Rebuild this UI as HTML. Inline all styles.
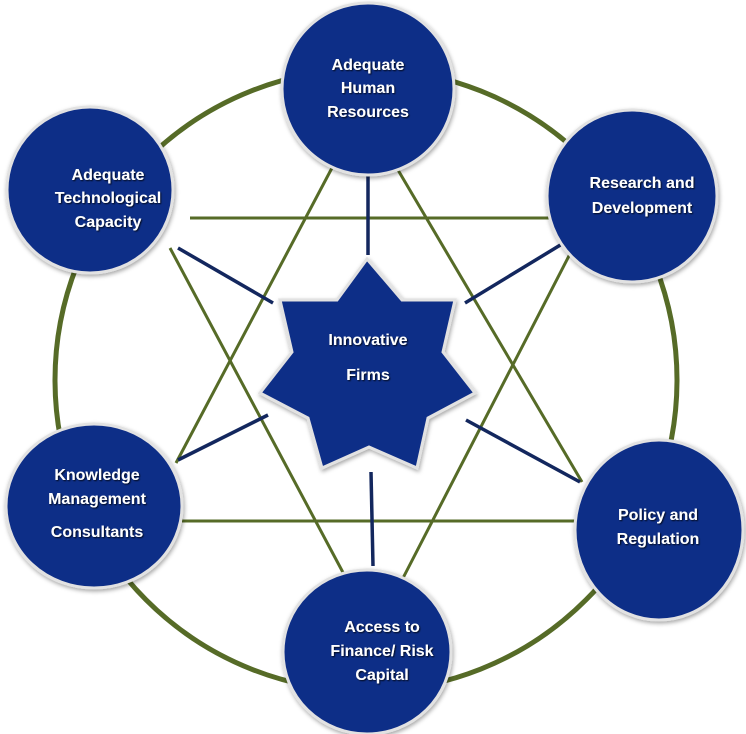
<!DOCTYPE html>
<html><head><meta charset="utf-8"><style>
html,body{margin:0;padding:0;background:#fff;width:746px;height:734px;overflow:hidden}
text{font-family:"Liberation Sans Narrow","Liberation Sans",sans-serif;font-weight:bold;font-size:16px;fill:#fff;text-anchor:middle;dominant-baseline:middle}
</style></head><body>
<svg width="746" height="734" viewBox="0 0 746 734" xmlns="http://www.w3.org/2000/svg">
<defs><filter id="sh" x="-20%" y="-20%" width="140%" height="140%"><feDropShadow dx="1" dy="2" stdDeviation="2" flood-color="#000" flood-opacity="0.35"/></filter>
<filter id="ts"><feDropShadow dx="1" dy="1" stdDeviation="0.8" flood-color="#000" flood-opacity="0.8"/></filter></defs>
<circle cx="366" cy="380" r="311" fill="none" stroke="#566b27" stroke-width="5"/>
<g stroke="#566b27" stroke-width="3">
<line x1="190" y1="218" x2="552" y2="218"/>
<line x1="170" y1="248" x2="347" y2="580"/>
<line x1="572" y1="250" x2="402" y2="580"/>
<line x1="182" y1="521" x2="578" y2="521"/>
<line x1="333" y1="166" x2="176" y2="463"/>
<line x1="398" y1="170" x2="582" y2="482"/>
</g>
<g stroke="#13275e" stroke-width="3.5">
<line x1="368" y1="172" x2="368" y2="255"/>
<line x1="178" y1="248" x2="273" y2="303"/>
<line x1="562" y1="244" x2="465" y2="303"/>
<line x1="178" y1="460" x2="268" y2="415"/>
<line x1="580" y1="482" x2="466" y2="420"/>
<line x1="371" y1="472" x2="373" y2="566"/>
</g>
<polygon points="367,259 402,300 455,300 443,352 475,393 428,418 417,468 369,447 322,468 308,418 260,393 292,352 280,300 337,300" fill="#0f2d87" stroke="#e2e2e2" stroke-width="3" filter="url(#sh)"/>
<g fill="#0f2d87" stroke="#e2e2e2" stroke-width="3" filter="url(#sh)">
<ellipse cx="368" cy="89" rx="86" ry="86"/>
<ellipse cx="90" cy="190" rx="83" ry="83"/>
<ellipse cx="632" cy="196" rx="85" ry="86"/>
<ellipse cx="94" cy="506" rx="88" ry="82"/>
<ellipse cx="659" cy="530" rx="84" ry="90"/>
<ellipse cx="367" cy="652" rx="84" ry="82"/>
</g>
<g filter="url(#ts)">
<text x="368" y="341">Innovative</text><text x="368" y="376">Firms</text>
<text x="368" y="66">Adequate</text><text x="368" y="89">Human</text><text x="368" y="113">Resources</text>
<text x="108" y="176">Adequate</text><text x="108" y="199">Technological</text><text x="108" y="223">Capacity</text>
<text x="642" y="184">Research and</text><text x="642" y="209">Development</text>
<text x="97" y="476">Knowledge</text><text x="97" y="500">Management</text><text x="97" y="533">Consultants</text>
<text x="658" y="516">Policy and</text><text x="658" y="540">Regulation</text>
<text x="382" y="628">Access to</text><text x="382" y="652">Finance/ Risk</text><text x="382" y="676">Capital</text>
</g>
</svg>
</body></html>
